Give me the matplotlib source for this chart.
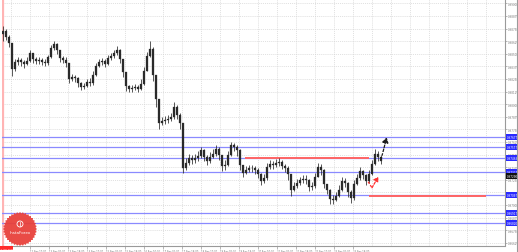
import matplotlib
matplotlib.use("Agg")
import matplotlib.pyplot as plt
import matplotlib.transforms as mtransforms
from matplotlib.patches import Polygon, Circle, Rectangle
import numpy as np

# ---------------- data ----------------
first_open = 0.9870
closes = [0.9873, 0.9867, 0.9861, 0.9835, 0.9842, 0.9844, 0.9842, 0.9840, 0.9843, 0.9851,
          0.9845, 0.9843, 0.9844, 0.9842, 0.9841, 0.9847, 0.9856, 0.9860, 0.9854, 0.9846,
          0.9844, 0.9841, 0.9825, 0.9827, 0.9826, 0.9821, 0.9817, 0.9818, 0.9822, 0.9821,
          0.9829, 0.9838, 0.9842, 0.9843, 0.9840, 0.9846, 0.9848, 0.9851, 0.9854, 0.9845,
          0.9832, 0.9818, 0.9815, 0.9816, 0.9817, 0.9815, 0.9820, 0.9833, 0.9848, 0.9855,
          0.9829, 0.9805, 0.9781, 0.9783, 0.9784, 0.9785, 0.9787, 0.9797, 0.9789, 0.9781,
          0.9737, 0.9742, 0.9747, 0.9745, 0.9747, 0.9749, 0.9754, 0.9748, 0.9744, 0.9748,
          0.9751, 0.9755, 0.9750, 0.9739, 0.9740, 0.9750, 0.9759, 0.9757, 0.9754, 0.9740,
          0.9732, 0.9735, 0.9737, 0.9737, 0.9735, 0.9731, 0.9724, 0.9727, 0.9738, 0.9741,
          0.9740, 0.9742, 0.9743, 0.9739, 0.9737, 0.9731, 0.9715, 0.9719, 0.9722, 0.9725,
          0.9726, 0.9725, 0.9718, 0.9719, 0.9728, 0.9738, 0.9735, 0.9721, 0.9715, 0.9706,
          0.9705, 0.9709, 0.9715, 0.9724, 0.9722, 0.9713, 0.9707, 0.9721, 0.9727, 0.9734,
          0.9730, 0.9724, 0.9731, 0.9741, 0.9751, 0.9748, 0.9744]
highs = [0.9877, 0.9875, 0.9869, 0.9861, 0.9845, 0.9847, 0.9846, 0.9844, 0.9847, 0.9854,
         0.9850, 0.9847, 0.9847, 0.9846, 0.9845, 0.9849, 0.9859, 0.9863, 0.9861, 0.9854,
         0.9848, 0.9847, 0.9841, 0.9830, 0.9829, 0.9827, 0.9822, 0.9821, 0.9825, 0.9826,
         0.9833, 0.9841, 0.9845, 0.9846, 0.9845, 0.9849, 0.9851, 0.9854, 0.9858, 0.9855,
         0.9845, 0.9832, 0.9819, 0.9819, 0.9820, 0.9819, 0.9825, 0.9837, 0.9852, 0.9863,
         0.9857, 0.9829, 0.9805, 0.9787, 0.9788, 0.9789, 0.9791, 0.9802, 0.9799, 0.9791,
         0.9781, 0.9747, 0.9751, 0.9750, 0.9751, 0.9753, 0.9757, 0.9755, 0.9750, 0.9752,
         0.9755, 0.9759, 0.9757, 0.9750, 0.9745, 0.9753, 0.9762, 0.9761, 0.9759, 0.9755,
         0.9740, 0.9739, 0.9740, 0.9740, 0.9739, 0.9737, 0.9732, 0.9731, 0.9742, 0.9745,
         0.9744, 0.9746, 0.9747, 0.9745, 0.9741, 0.9739, 0.9731, 0.9723, 0.9726, 0.9728,
         0.9730, 0.9730, 0.9726, 0.9723, 0.9732, 0.9742, 0.9741, 0.9736, 0.9721, 0.9716,
         0.9710, 0.9713, 0.9720, 0.9728, 0.9727, 0.9723, 0.9715, 0.9725, 0.9731, 0.9738,
         0.9735, 0.9731, 0.9735, 0.9745, 0.9755, 0.9753, 0.9750]
lows = [0.9863, 0.9864, 0.9857, 0.9828, 0.9833, 0.9839, 0.9838, 0.9836, 0.9839, 0.9842,
        0.9841, 0.9840, 0.9840, 0.9839, 0.9838, 0.9839, 0.9846, 0.9854, 0.9850, 0.9842,
        0.9841, 0.9837, 0.9821, 0.9823, 0.9822, 0.9817, 0.9814, 0.9815, 0.9817, 0.9818,
        0.9819, 0.9828, 0.9837, 0.9839, 0.9837, 0.9839, 0.9844, 0.9846, 0.9849, 0.9841,
        0.9827, 0.9813, 0.9812, 0.9812, 0.9814, 0.9812, 0.9814, 0.9819, 0.9833, 0.9847,
        0.9823, 0.9797, 0.9775, 0.9779, 0.9780, 0.9781, 0.9783, 0.9785, 0.9785, 0.9775,
        0.9732, 0.9735, 0.9740, 0.9741, 0.9742, 0.9744, 0.9747, 0.9744, 0.9740, 0.9742,
        0.9747, 0.9749, 0.9745, 0.9734, 0.9735, 0.9739, 0.9749, 0.9753, 0.9749, 0.9735,
        0.9728, 0.9731, 0.9733, 0.9733, 0.9731, 0.9727, 0.9720, 0.9722, 0.9725, 0.9736,
        0.9736, 0.9738, 0.9739, 0.9736, 0.9733, 0.9725, 0.9709, 0.9714, 0.9717, 0.9720,
        0.9722, 0.9721, 0.9714, 0.9715, 0.9717, 0.9728, 0.9730, 0.9717, 0.9711, 0.9701,
        0.9701, 0.9704, 0.9708, 0.9714, 0.9718, 0.9708, 0.9702, 0.9705, 0.9720, 0.9725,
        0.9726, 0.9720, 0.9722, 0.9730, 0.9740, 0.9744, 0.9741]

blue_levels = [0.97677, 0.97577, 0.97463, 0.97327, 0.97097, 0.96917, 0.96820]
red_levels = [0.97463, 0.97090]
current_price = 0.97290

price_ticks = [0.99000, 0.98875, 0.98750, 0.98625, 0.98500, 0.98375, 0.98250, 0.98125,
               0.98000, 0.97875, 0.97750, 0.97625, 0.97500, 0.97375, 0.97250, 0.97125,
               0.97000, 0.96875, 0.96750, 0.96625]
date_labels = ["12 Apr 10:00", "13 Apr 02:00", "13 Apr 18:00", "14 Apr 10:00", "15 Apr 02:00",
               "15 Apr 18:00", "16 Apr 10:00", "17 Apr 02:00", "17 Apr 18:00", "18 Apr 10:00",
               "19 Apr 02:00", "19 Apr 18:00", "20 Apr 10:00", "21 Apr 02:00", "21 Apr 18:00",
               "22 Apr 10:00", "23 Apr 02:00", "23 Apr 18:00"]
red_arrow_x = [121.7, 123.0, 125.1]
red_arrow_p = [0.9723, 0.9717, 0.9728]
black_arrow_x = [126.0, 126.7, 127.9]
black_arrow_p = [0.9745, 0.9753, 0.9767]

# ---------------- figure ----------------
W, H = 518, 253
fig = plt.figure(figsize=(W / 100, H / 100), dpi=100)
fig.patch.set_facecolor("white")
ax = fig.add_axes([2 / W, (H - 246.5) / H, 503 / W, 246.5 / H])
ax.set_facecolor("white")
ax.set_xlim(-1 / 3, 167.333)
ax.set_ylim(0.965974, 0.990427)

grid_c = "#d4d4d4"
for p in price_ticks:
    ax.axhline(p, color=grid_c, lw=0.5, ls=(0, (1.5, 1.5)), zorder=0)
step = 19 / 3
for k in range(-2, 26):
    ax.axvline(9 + step * k, color=grid_c, lw=0.5, ls=(0, (1.5, 1.5)), zorder=0)

# left pink separator
ax.axvline(-0.1, color="#ffb4b4", lw=1.6, zorder=1)

# horizontal levels
for lv in blue_levels:
    ax.axhline(lv, color="#8a8aff", lw=0.9, zorder=2)
ax.hlines(red_levels[0], 80.7, 122.0, color="#ff6464", lw=1.4, zorder=3)
ax.hlines(red_levels[1], 122.0, 161.0, color="#ff6464", lw=1.4, zorder=3)

# candles
opens = [first_open] + closes[:-1]
n = len(closes)
xs = np.arange(n)
o = np.array(opens)
c = np.array(closes)
h = np.maximum(np.array(highs), np.maximum(o, c))
l = np.minimum(np.array(lows), np.minimum(o, c))
ax.vlines(xs, l, h, color="#2a2a2a", lw=0.55, zorder=4)
ax.bar(xs, c - o, bottom=o, width=0.45, color="#2a2a2a", edgecolor="#2a2a2a", lw=0.2, zorder=5)

# forecast arrows
ax.plot(red_arrow_x[:-1], red_arrow_p[:-1], color="#ff3030", lw=0.9, ls=(0, (2, 1.2)), zorder=6)
ax.annotate("", xy=(red_arrow_x[-1], red_arrow_p[-1]), xytext=(red_arrow_x[-2], red_arrow_p[-2]),
            arrowprops=dict(arrowstyle="-|>,head_length=0.25,head_width=0.15", color="#ff3030",
                            lw=0.9, ls=(0, (2, 1.2)), shrinkA=0, shrinkB=0), zorder=6)
ax.plot(black_arrow_x[:-1], black_arrow_p[:-1], color="#1e1e1e", lw=0.9, ls=(0, (2, 1.2)), zorder=6)
ax.annotate("", xy=(black_arrow_x[-1], black_arrow_p[-1]), xytext=(black_arrow_x[-2], black_arrow_p[-2]),
            arrowprops=dict(arrowstyle="-|>,head_length=0.3,head_width=0.18", color="#1e1e1e",
                            lw=0.9, ls=(0, (2, 1.2)), shrinkA=0, shrinkB=0), zorder=6)

# axes
for s in ["top", "left"]:
    ax.spines[s].set_visible(False)
for s in ["right", "bottom"]:
    ax.spines[s].set_color("#9a9a9a")
    ax.spines[s].set_linewidth(0.8)
ax.yaxis.tick_right()
ax.set_yticks(price_ticks)
ax.set_yticklabels([f"{p:.5f}" for p in price_ticks])
ax.tick_params(axis="y", length=1.5, width=0.5, color="#9a9a9a", pad=0.8,
               labelsize=2.0, labelcolor="#7a7a7a")
pos = [9 + step * k for k in range(len(date_labels))]
ax.set_xticks(pos)
ax.set_xticklabels(date_labels)
ax.tick_params(axis="x", length=2, width=0.5, color="#9a9a9a", pad=0.8,
               labelsize=1.8, labelcolor="#7a7a7a")
for t in ax.get_xticklabels():
    t.set_ha("left")

# right-side level labels
trans = mtransforms.blended_transform_factory(ax.transAxes, ax.transData)
for lv in blue_levels:
    ax.text(1.003, lv, f"{lv:.5f}", transform=trans, fontsize=2.0, color="white",
            va="center", ha="left", clip_on=False, zorder=10,
            bbox=dict(boxstyle="square,pad=0.3", fc="#2a2aff", ec="none"))
ax.text(1.003, current_price, f"{current_price:.5f}", transform=trans, fontsize=2.0, color="white",
        va="center", ha="left", clip_on=False, zorder=10,
        bbox=dict(boxstyle="square,pad=0.3", fc="#101010", ec="none"))

# overlay for logo and frame
ov = fig.add_axes([0, 0, 1, 1], zorder=20)
ov.set_xlim(0, W)
ov.set_ylim(H, 0)
ov.axis("off")
ov.patch.set_alpha(0)
cx, cy = 20, 230
nt = 36
ang = np.linspace(0, 2 * np.pi, 2 * nt, endpoint=False)
rad = np.where(np.arange(2 * nt) % 2 == 0, 17.0, 15.6)
ov.add_patch(Polygon(np.c_[cx + rad * np.cos(ang), cy + rad * np.sin(ang)], closed=True,
                     fc="#e8413c", ec="none", alpha=0.95))
ov.add_patch(Circle((cx, cy - 5), 3.0, fc="none", ec="white", lw=0.6))
ov.plot([cx, cx], [cy - 7, cy - 3], color="white", lw=0.5)
ov.text(cx, cy + 3.5, "InstaForex", color="white", fontsize=3.0, ha="center", va="center")
ov.add_patch(Rectangle((0, 246.8), 13, 4.2, fc="#ff2a2a", ec="none"))
ov.text(6.5, 248.9, "12 Apr 2018", color="white", fontsize=1.7, ha="center", va="center")
ov.plot([517.3, 517.3], [0, 253], color="#9a9a9a", lw=0.8)

fig.savefig("out.png", dpi=100, facecolor="white")
